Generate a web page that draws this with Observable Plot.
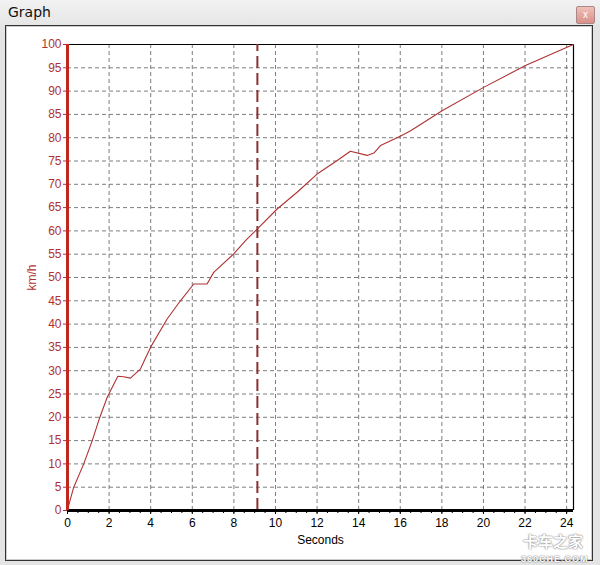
<!DOCTYPE html>
<html>
<head>
<meta charset="utf-8">
<script src="https://cdn.jsdelivr.net/npm/d3@7"></script>
<script src="https://cdn.jsdelivr.net/npm/@observablehq/plot@0.6"></script>
<style>
  html, body { margin: 0; padding: 0; width: 600px; height: 565px; overflow: hidden; background: #e4e4e4; font-family: "Liberation Sans", Arial, sans-serif; }
  #titlebar { position: relative; height: 25px; background: linear-gradient(#f2f2f2, #e6e6e6); }
  #titlebar .t { position: absolute; left: 8px; top: 4px; font-size: 14px; color: #111; font-family: "DejaVu Sans", sans-serif; }
  #titlebar .x { position: absolute; left: 576px; top: 6px; width: 17px; height: 16px; border: 1px solid #a88; border-radius: 2px; background: linear-gradient(#f0c0b8, #d99088); color: #fff; font-size: 10px; text-align: center; line-height: 15px; }
  #wrap { position: relative; width: 600px; height: 540px; }
  #panel { position: absolute; left: 5px; top: 0px; width: 586px; height: 534px; background: #fff; border: 1px solid #333; box-shadow: inset 0 0 0 1px #ccc; }
  #chart { position: absolute; left: 0; top: 0; }
  .wm { position: absolute; color: #fff; font-weight: bold; text-shadow: 0 0 2px #888, 0 0 1px #666; line-height: 1; white-space: nowrap; }
  #wma { left: 523px; top: 508px; font-size: 15px; height: 15px; font-family: "Noto Sans CJK SC", sans-serif; }
  #wmb { left: 521px; top: 530px; font-size: 9px; height: 9px; letter-spacing: 1px; }
</style>
</head>
<body>
<div id="titlebar"><span class="t">Graph</span><span class="x">x</span></div>
<div id="wrap"><div id="panel"></div><div id="chart"></div><span class="wm" id="wma">卡车之家</span><span class="wm" id="wmb">360CHE.COM</span></div>
<script>
// Data
const seconds = [0, 0.3, 0.78, 1.19, 1.5, 1.91, 2.42, 2.7, 3.03, 3.51, 3.99, 4.79, 5.43, 6.07, 6.71, 7.03, 8.0, 8.56, 9.12, 10.08, 11.04, 12.0, 12.97, 13.6, 14.41, 14.73, 15.05, 16.0, 16.5, 18.01, 20.01, 22.02, 24.02, 24.33];
const speed   = [0.2, 5.0, 10.0, 15.0, 19.3, 24.3, 28.8, 28.7, 28.4, 30.4, 35.0, 41.1, 45.0, 48.6, 48.6, 51.1, 55.1, 57.9, 60.4, 64.7, 68.3, 72.2, 75.1, 77.1, 76.2, 76.7, 78.3, 80.3, 81.5, 85.8, 90.8, 95.5, 99.4, 100];
const markerTime = [9.13];
const xTicks = [0, 2, 4, 6, 8, 10, 12, 14, 16, 18, 20, 22, 24];
const xMinorTicks = d3.range(0, 24.01, 0.5);
const yTicks = d3.range(0, 101, 5);
const xMax = 24.33;

const data = seconds.map((t, i) => ({t, v: speed[i]}));
const red = "#b03232";

const chart = Plot.plot({
  width: 600,
  height: 540,
  marginLeft: 67,
  marginRight: 27,
  marginTop: 19,
  marginBottom: 55,
  style: {background: "transparent", fontFamily: "Liberation Sans, Arial, sans-serif", fontSize: "11px", overflow: "visible"},
  x: {domain: [0, xMax]},
  y: {domain: [0, 100]},
  marks: [
    Plot.gridX(xTicks.filter(d => d > 0), {stroke: "#666", strokeOpacity: 0.85, strokeDasharray: "4,3"}),
    Plot.gridY(yTicks.filter(d => d > 0 && d < 100), {stroke: "#666", strokeOpacity: 0.85, strokeDasharray: "4,3"}),
    Plot.ruleY([100], {stroke: "#000", strokeWidth: 1.2}),
    Plot.ruleX([xMax], {stroke: "#000", strokeWidth: 1.2}),
    Plot.ruleX(markerTime, {y1: 0, y2: 100, stroke: "#8b3030", strokeWidth: 2, strokeDasharray: "12,5"}),
    Plot.line(data, {x: "t", y: "v", stroke: red, strokeWidth: 1.1}),
    Plot.axisX({ticks: xMinorTicks, tickFormat: () => "", tickSize: 3, stroke: "#000", label: null}),
    Plot.axisX({ticks: xTicks, tickSize: 4, tickPadding: 4, tickFormat: d3.format("d"), fill: "#000", fontSize: 12, label: "Seconds", labelAnchor: "center", labelArrow: "none", labelOffset: 33}),
    Plot.axisY({ticks: yTicks, tickSize: 4, tickPadding: 2, fill: red, stroke: red, fontSize: 12, label: "km/h", labelAnchor: "center", labelArrow: "none", labelOffset: 40}),
    Plot.ruleY([0], {stroke: "#000", strokeWidth: 3}),
    Plot.ruleX([0], {y1: 0, y2: 100, stroke: "#c0281e", strokeWidth: 3})
  ]
});
document.getElementById("chart").appendChild(chart);
</script>
</body>
</html>
